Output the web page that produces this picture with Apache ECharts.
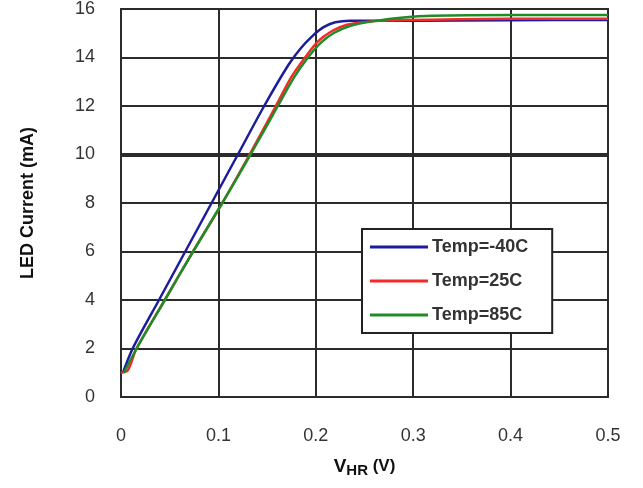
<!DOCTYPE html>
<html>
<head>
<meta charset="utf-8">
<script src="https://cdn.jsdelivr.net/npm/echarts@6/dist/echarts.min.js"></script>
<style>
  html, body { margin: 0; padding: 0; background: #fff; }
  #chart { width: 643px; height: 488px; }
</style>
</head>
<body>
<div id="chart"></div>
<script>
// V_HR (V) vs LED current (mA)
const seriesNames = ['Temp=-40C', 'Temp=25C', 'Temp=85C'];
const seriesColors = ['#1c1c9c', '#f42a2a', '#1f8d27'];

const coldData = [
  [0.002, 1.0], [0.012, 2], [0.039, 4], [0.066, 6], [0.093, 8], [0.120, 10],
  [0.147, 12], [0.172, 13.7], [0.185, 14.4], [0.197, 14.9], [0.208, 15.25],
  [0.220, 15.45], [0.235, 15.52], [0.30, 15.52], [0.40, 15.54], [0.50, 15.55]
];
const roomData = [
  [0.000, 1.0], [0.007, 1.1], [0.016, 2], [0.045, 4], [0.074, 6], [0.104, 8],
  [0.132, 10], [0.159, 12], [0.175, 13.2], [0.189, 14], [0.202, 14.65],
  [0.215, 15.05], [0.232, 15.35], [0.260, 15.5], [0.30, 15.55], [0.40, 15.6], [0.50, 15.6]
];
const hotData = [
  [0.003, 1.0], [0.016, 2], [0.045, 4], [0.074, 6], [0.104, 8], [0.133, 10],
  [0.161, 12], [0.178, 13.2], [0.192, 14], [0.205, 14.6], [0.218, 15.0],
  [0.235, 15.3], [0.260, 15.5], [0.290, 15.65], [0.320, 15.72], [0.40, 15.75], [0.50, 15.75]
];
const allData = [coldData, roomData, hotData];

const chart = echarts.init(document.getElementById('chart'));
const gridColor = '#2b2b2b';

const option = {
  animation: false,
  backgroundColor: '#fff',
  textStyle: { fontFamily: 'Liberation Sans, Arial, sans-serif' },
  grid: {
    left: 121, right: 35, top: 8, bottom: 91,
    show: true, borderColor: gridColor, borderWidth: 2
  },
  xAxis: {
    type: 'value', min: 0, max: 0.5, interval: 0.1,
    name: '{v|V}{s|HR}{n| (V)}',
    nameLocation: 'middle', nameGap: 58,
    nameTextStyle: {
      rich: {
        v: { fontSize: 19, fontWeight: 'bold', color: '#111' },
        s: { fontSize: 15, fontWeight: 'bold', color: '#111', padding: [8, 0, 0, 0] },
        n: { fontSize: 17, fontWeight: 'bold', color: '#111' }
      }
    },
    axisLine: { lineStyle: { color: gridColor, width: 2 } },
    axisTick: { show: false },
    axisLabel: { fontSize: 18, color: '#333', margin: 30 },
    splitLine: { lineStyle: { color: gridColor, width: 2 } }
  },
  yAxis: {
    type: 'value', min: 0, max: 16, interval: 2,
    name: 'LED Current (mA)',
    nameLocation: 'middle', nameGap: 84,
    nameTextStyle: { fontSize: 18, fontWeight: 'bold', color: '#111' },
    axisLine: { show: true, lineStyle: { color: gridColor, width: 2 } },
    axisTick: { show: false },
    axisLabel: { fontSize: 18, color: '#333', margin: 26 },
    splitLine: { lineStyle: { color: gridColor, width: 2 } }
  },
  legend: {
    data: seriesNames,
    orient: 'vertical',
    left: 362, top: 229,
    padding: [9, 24, 9, 8],
    itemGap: 16,
    itemWidth: 58, itemHeight: 3,
    icon: 'rect',
    backgroundColor: '#fff',
    borderColor: '#222', borderWidth: 2,
    textStyle: { fontSize: 18, fontWeight: 'bold', color: '#333', padding: [0, 0, 0, -1] }
  },
  series: seriesNames.map((name, i) => ({
    name: name,
    type: 'line',
    data: allData[i],
    smooth: 0.3,
    showSymbol: false,
    symbol: 'none',
    color: seriesColors[i],
    lineStyle: { width: 2.5, color: seriesColors[i] },
    z: 3 + i,
    markLine: i === 0 ? {
      silent: true, symbol: 'none', z: 1,
      label: { show: false },
      lineStyle: { color: gridColor, width: 4, type: 'solid' },
      data: [{ yAxis: 10 }]
    } : undefined
  }))
};

chart.setOption(option);
</script>
</body>
</html>
